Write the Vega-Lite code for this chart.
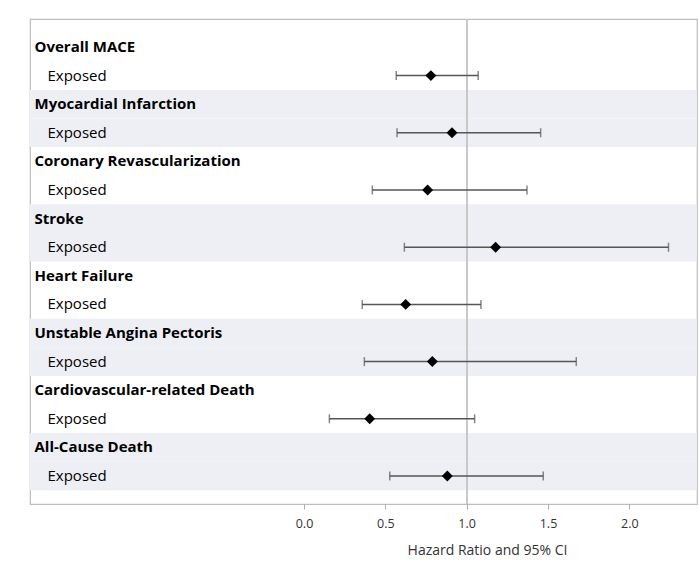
{
  "$schema": "https://vega.github.io/schema/vega-lite/v6.json",
  "width": 667,
  "height": 485,
  "padding": {"left": 30, "top": 18, "right": 2, "bottom": 5},
  "background": "white",
  "config": {
    "font": "Open Sans",
    "view": {"stroke": "#bdbdbd", "strokeWidth": 1.2}
  },
  "data": {
    "values": [
      {"idx": 1, "outcome": "Overall MACE", "hr": 0.78, "lo": 0.567, "hi": 1.071},
      {"idx": 2, "outcome": "Myocardial Infarction", "hr": 0.91, "lo": 0.572, "hi": 1.455},
      {"idx": 3, "outcome": "Coronary Revascularization", "hr": 0.76, "lo": 0.42, "hi": 1.371},
      {"idx": 4, "outcome": "Stroke", "hr": 1.178, "lo": 0.617, "hi": 2.241},
      {"idx": 5, "outcome": "Heart Failure", "hr": 0.625, "lo": 0.358, "hi": 1.088},
      {"idx": 6, "outcome": "Unstable Angina Pectoris", "hr": 0.789, "lo": 0.371, "hi": 1.674},
      {"idx": 7, "outcome": "Cardiovascular-related Death", "hr": 0.404, "lo": 0.156, "hi": 1.049},
      {"idx": 8, "outcome": "All-Cause Death", "hr": 0.881, "lo": 0.527, "hi": 1.471}
    ]
  },
  "transform": [{"calculate": "datum.outcome + '|Exposed'", "as": "ekey"}],
  "encoding": {
    "x": {
      "type": "quantitative",
      "scale": {"domain": [-1.6846, 2.4162], "nice": false, "zero": false},
      "axis": {
        "values": [0, 0.5, 1, 1.5, 2],
        "format": ".1f",
        "domain": false,
        "grid": false,
        "tickColor": "#b0b0b0",
        "tickSize": 5,
        "labelPadding": 8,
        "labelFontSize": 12.5,
        "labelColor": "#333333",
        "title": "Hazard Ratio and 95% CI",
        "titleFontSize": 14,
        "titleFontWeight": "normal",
        "titleColor": "#333333",
        "titleX": 457,
        "titlePadding": 14
      }
    }
  },
  "layer": [
    {
      "transform": [{"filter": "datum.idx % 2 == 0"}],
      "mark": {"type": "rect", "color": "#eeeff5"},
      "encoding": {
        "y": {
          "field": "outcome",
          "type": "nominal",
          "scale": {
            "domain": [
              "Overall MACE", "Overall MACE|Exposed",
              "Myocardial Infarction", "Myocardial Infarction|Exposed",
              "Coronary Revascularization", "Coronary Revascularization|Exposed",
              "Stroke", "Stroke|Exposed",
              "Heart Failure", "Heart Failure|Exposed",
              "Unstable Angina Pectoris", "Unstable Angina Pectoris|Exposed",
              "Cardiovascular-related Death", "Cardiovascular-related Death|Exposed",
              "All-Cause Death", "All-Cause Death|Exposed"
            ],
            "paddingInner": 0,
            "paddingOuter": 0.48
          },
          "axis": {
            "orient": "left",
            "title": null,
            "domain": false,
            "ticks": false,
            "tickSize": 0,
            "zindex": 1,
            "labelAlign": "left",
            "labelLimit": 400,
            "labelFontSize": 15,
            "labelColor": "#000000",
            "labelExpr": "indexof(datum.value, '|') >= 0 ? 'Exposed' : datum.value",
            "labelFontWeight": {"condition": {"test": "indexof(datum.value, '|') < 0", "value": "bold"}, "value": "normal"},
            "labelPadding": {"condition": {"test": "indexof(datum.value, '|') < 0", "value": -4}, "value": -17}
          }
        }
      }
    },
    {
      "transform": [{"filter": "datum.idx % 2 == 0"}],
      "mark": {"type": "rect", "color": "#eeeff5"},
      "encoding": {"y": {"field": "ekey", "type": "nominal"}}
    },
    {
      "mark": {"type": "rule", "color": "#c8c8c8", "strokeWidth": 1.3},
      "encoding": {"x": {"datum": 1}}
    },
    {
      "mark": {"type": "rule", "color": "#555555", "strokeWidth": 1.5},
      "encoding": {
        "x": {"field": "lo", "type": "quantitative"},
        "x2": {"field": "hi"},
        "y": {"field": "ekey", "type": "nominal"}
      }
    },
    {
      "mark": {"type": "tick", "orient": "vertical", "color": "#555555", "thickness": 1.5, "size": 9},
      "encoding": {
        "x": {"field": "lo", "type": "quantitative"},
        "y": {"field": "ekey", "type": "nominal"}
      }
    },
    {
      "mark": {"type": "tick", "orient": "vertical", "color": "#555555", "thickness": 1.5, "size": 9},
      "encoding": {
        "x": {"field": "hi", "type": "quantitative"},
        "y": {"field": "ekey", "type": "nominal"}
      }
    },
    {
      "mark": {"type": "point", "shape": "diamond", "filled": true, "color": "#000000", "size": 120, "opacity": 1},
      "encoding": {
        "x": {"field": "hr", "type": "quantitative"},
        "y": {"field": "ekey", "type": "nominal"}
      }
    }
  ]
}
